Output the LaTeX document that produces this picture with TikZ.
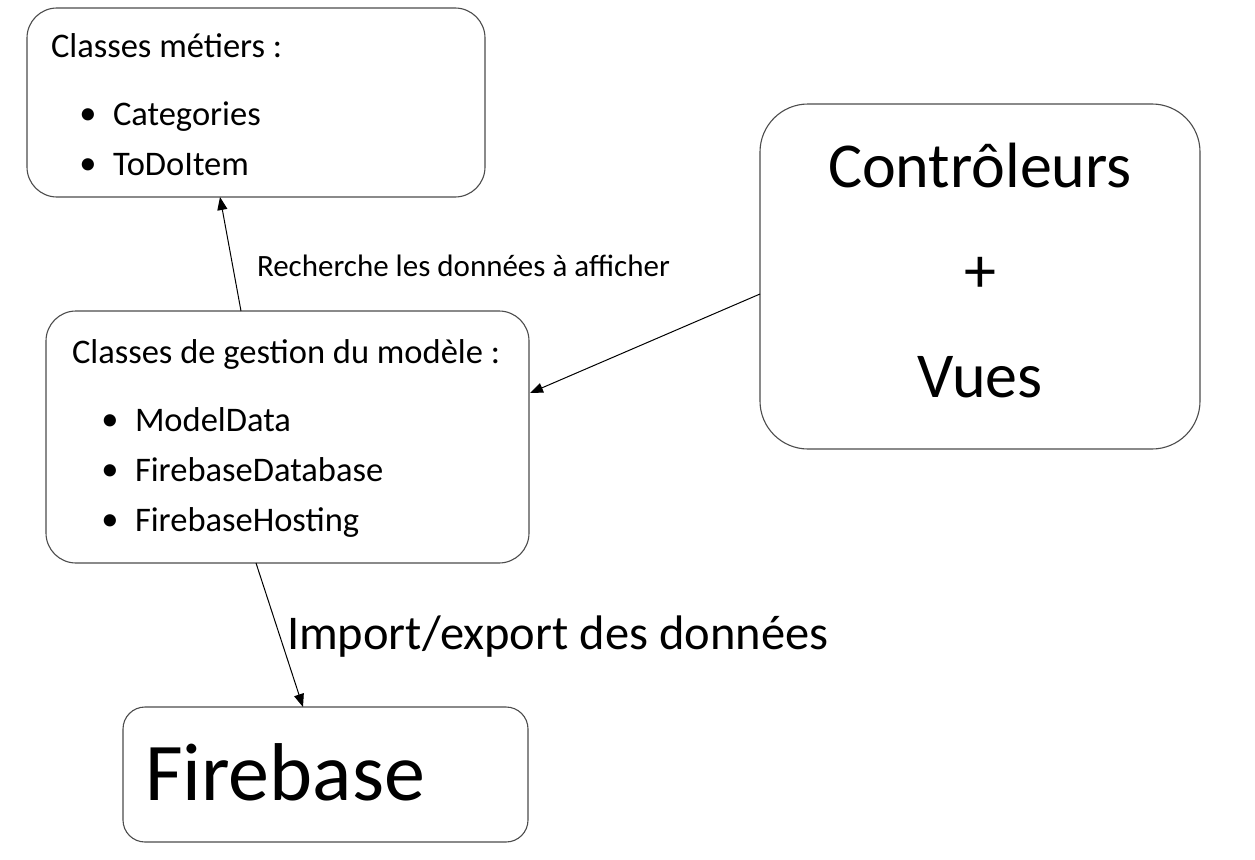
\documentclass[tikz,border=0pt]{standalone}
\usepackage{fontspec}
\setmainfont{Carlito}
\usetikzlibrary{arrows.meta,calc}
\begin{document}
\begin{tikzpicture}[x=1pt,y=-1pt,
  box/.style={draw=black!70,line width=1.1pt,inner sep=0pt,outer sep=0pt,fill=white},
  txt/.style={inner sep=0pt,outer sep=0pt,anchor=base west},
  arr/.style={draw=black,line width=1pt,-{Triangle[length=13pt,width=10pt]}},
  fs/.style={font=\fontsize{#1}{#1}\selectfont}]
\useasboundingbox[fill=white] (0,0) rectangle (1255,859);
% boxes
\node[box,rounded corners=30pt,minimum width=458pt,minimum height=189pt] (metier) at (256,102.5) {};
\node[box,rounded corners=48pt,minimum width=440pt,minimum height=345pt] (ctrl) at (980,276.5) {};
\node[box,rounded corners=30pt,minimum width=483pt,minimum height=252pt] (gest) at (287.5,437) {};
\node[box,rounded corners=22pt,minimum width=405pt,minimum height=135pt] (fire) at (325.5,774.5) {};
% box 1 text
\node[txt,fs=34.5] (t1) at (51,57) {Classes métiers :};
\node[fs=34.5,inner sep=0pt] (b1) at (88,117) {•};
\node[txt,fs=34.5] (c1) at (113,125) {Categories};
\node[fs=34.5,inner sep=0pt] (b2) at (88,167) {•};
\node[txt,fs=34.5] (c2) at (113,175) {ToDoItem};
% box 3 text
\node[txt,fs=34.5] (t3) at (72,363) {Classes de gestion du modèle :};
\node[fs=34.5,inner sep=0pt] (b3) at (110,423) {•};
\node[txt,fs=34.5] (g1) at (135,431) {ModelData};
\node[fs=34.5,inner sep=0pt] (b4) at (110,473) {•};
\node[txt,fs=34.5] (g2) at (135,481) {FirebaseDatabase};
\node[fs=34.5,inner sep=0pt] (b5) at (110,523) {•};
\node[txt,fs=34.5] (g3) at (135,531) {FirebaseHosting};
% controller box text
\node[txt,fs=64,anchor=base] (k1) at (980,187) {Contrôleurs};
\node[fs=64,inner sep=0pt] (k2) at (980,275) {+};
\node[txt,fs=64,anchor=base] (k3) at (980,397) {Vues};
% firebase
\node[txt,fs=82] (f1) at (145,800) {Firebase};
% labels
\node[txt,fs=31] (l1) at (257,276) {Recherche les données à afficher};
\node[txt,fs=48.5] (l2) at (287,649) {Import/export des données};
% connectors
\draw[arr] ($(gest.north west)+(195,0)$) -- ($(metier.south west)+(193,0)$);
\draw[arr] ($(ctrl.west)+(0,17.5)$) -- ($(gest.east)+(1,-44)$);
\draw[arr] ($(gest.south west)+(210,0)$) -- ($(fire.north west)+(180,0)$);
\end{tikzpicture}
\end{document}
